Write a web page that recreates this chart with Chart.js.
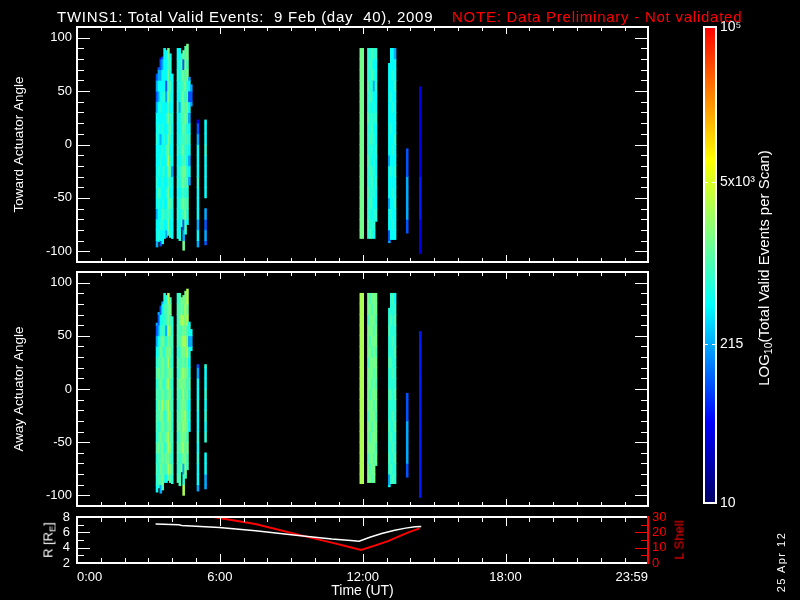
<!DOCTYPE html>
<html>
<head>
<meta charset="utf-8">
<title>TWINS1 Total Valid Events</title>
<script src="https://cdn.jsdelivr.net/npm/chart.js@4.4.1/dist/chart.umd.min.js"></script>
<style>
html, body { margin:0; padding:0; background:#000; }
#wrap { position:relative; width:800px; height:600px; overflow:hidden; background:#000; font-family:'Liberation Sans', Arial, sans-serif; }
#wrap canvas { position:absolute; left:0; top:0; }
.txt { position:absolute; white-space:nowrap; color:#fff; line-height:1; }
.rot { transform: translate(-50%,-50%) rotate(-90deg); }
sub { font-size:70%; vertical-align:-0.3em; line-height:0; }
</style>
</head>
<body>
<div id="wrap">
  <canvas id="cToward" width="800" height="600"></canvas>
  <canvas id="cAway" width="800" height="600"></canvas>
  <canvas id="cOrbit" width="800" height="600"></canvas>
  <canvas id="cBar" width="800" height="600"></canvas>
  <div class="txt" style="left:57px;top:9px;font-size:15px;letter-spacing:0.75px;">TWINS1: Total Valid Events:&nbsp; 9 Feb (day&nbsp; 40), 2009</div>
  <div class="txt" style="left:452px;top:9px;font-size:15px;letter-spacing:0.75px;color:#ff0000;">NOTE: Data Preliminary - Not validated</div>
  <div class="txt rot" style="left:48px;top:540px;font-size:13px;">R [R<sub>E</sub>]</div>
  <div class="txt rot" style="left:679px;top:540px;font-size:13px;color:#ff0000;">L Shell</div>
  <div class="txt rot" style="left:763px;top:268px;font-size:15px;">LOG<sub>10</sub>(Total Valid Events per Scan)</div>
  <div class="txt rot" style="left:781px;top:562px;font-size:11px;letter-spacing:1.5px;">25 Apr 12</div>
</div>
<script>
// ---------------- DATA ----------------
// scan start-centre times (hours UT)
const scanTimes = [3.36,3.44,3.52,3.60,3.68,3.76,3.84,3.92,4.00,
                   4.24,4.32,4.40,4.48,4.56,4.64,4.72,4.80,
                   5.08,5.40,
                   11.92,12.00,
                   12.24,12.32,12.40,12.48,12.56,
                   13.12,13.20,13.28,13.36,
                   13.87,14.42];
// actuator-angle bin edges (deg)
const angleBinEdges = [-110,-90,-80,-70,-60,-50,-40,-30,-20,-10,0,10,20,30,40,50,60,70,80,100];

// Toward actuator angle: angular extent of each scan and counts per bin
const towardLo = [-96,-91,-95,-93,-88,-87,-85,-87,-88, -88,-90,-77,-99,-84,-75,-38,36, -96,-94, -88,-88, -88,-88,-88,-88,-72, -92,-89,-89,-89, -83,-102];
const towardHi = [66,72,81,82,90,88,90,85,66, 90,90,85,88,92,94,63,56, 23,23, 90,90, 90,90,90,90,90, 76,90,90,90, -4,54];
const towardCounts = [
  [215,480,480,215,480,480,700,480,480,480,700,480,480,215,100,215,100,null,null],
  [480,700,480,480,700,1000,480,700,480,480,480,700,480,480,215,480,215,100,null],
  [100,480,700,480,480,700,480,480,700,480,215,480,480,700,480,480,215,100,40],
  [480,480,700,1000,700,480,700,700,480,700,480,700,480,480,700,480,480,215,100],
  [null,480,480,700,480,480,480,700,480,480,700,480,480,480,700,480,480,480,480],
  [null,215,480,700,480,700,480,480,700,1000,480,480,700,480,215,100,480,480,480],
  [null,1000,1600,1000,1600,1600,1000,1600,3000,1600,1600,1000,1600,1000,1600,1000,1600,1000,1600],
  [null,700,480,700,1000,480,700,1000,700,480,700,1000,700,480,700,1000,480,700,480],
  [null,480,480,480,700,480,480,215,480,480,480,480,700,480,480,480,480,null,null],
  [null,480,480,700,480,480,700,480,480,700,480,480,480,700,480,480,700,480,480],
  [null,700,480,480,700,480,480,700,480,480,700,480,480,215,480,700,480,700,480],
  [null,null,1000,700,1000,700,1000,1000,700,1000,700,700,1000,700,1000,700,1000,1000,700],
  [1600,215,100,1000,1600,1000,1600,1600,1000,1600,1000,1600,1000,1600,1600,1000,1600,100,1600],
  [null,700,1000,1600,1000,700,1000,1600,1000,700,1000,1000,1600,1000,700,1600,1000,1600,1000],
  [null,null,480,700,1000,700,1000,700,480,700,1000,700,1000,1600,1000,700,1600,1000,1600],
  [null,null,null,null,null,null,215,480,215,480,700,480,215,480,100,480,215,null,null],
  [null,null,null,null,null,null,null,null,null,null,null,null,null,215,100,215,null,null,null],
  [215,480,215,480,480,480,700,480,480,480,215,100,40,null,null,null,null,null,null],
  [100,215,100,215,null,480,480,480,480,700,480,480,480,null,null,null,null,null,null],
  [null,1600,1600,1600,1600,1600,1600,1600,1600,1600,1600,1600,1600,1600,1600,1600,1600,1600,1600],
  [null,1600,1600,1600,1600,1600,1600,1600,1600,1600,1600,1600,1600,1600,1600,1600,1600,1600,1600],
  [null,700,1000,700,700,1000,700,700,1000,700,700,700,1000,700,700,1000,700,700,700],
  [null,1000,700,700,1000,700,700,1000,700,700,1000,700,700,700,1000,700,700,1000,700],
  [null,700,700,480,700,700,1000,700,480,700,700,1000,700,480,700,700,1000,700,1000],
  [null,480,700,700,480,700,480,700,700,480,700,480,700,700,480,215,700,480,700],
  [null,null,480,700,480,480,700,480,480,700,480,480,700,480,480,700,480,480,700],
  [215,100,480,480,215,480,480,480,215,480,480,480,480,480,480,480,480,480,null],
  [null,480,480,700,480,480,480,700,480,480,480,700,480,480,700,480,480,480,480],
  [null,480,700,480,480,700,480,480,480,700,480,480,480,700,480,480,700,480,480],
  [null,480,480,480,700,480,480,700,480,480,700,480,480,480,480,700,480,480,215],
  [null,100,100,215,215,215,215,100,100,100,null,null,null,null,null,null,null,null,null],
  [40,40,40,60,60,60,60,40,40,40,40,40,40,40,40,40,null,null,null]
];

// Away actuator angle
const awayLo = [-97,-93,-98,-95,-88,-88,-86,-88,-89, -88,-91,-78,-100,-84,-76,-40,36, -96,-94, -89,-89, -88,-88,-88,-88,-72, -92,-89,-89,-89, -83,-102];
const awayHi = [62,72,78,82,90,88,90,86,68, 90,90,86,88,92,94,63,56, 23,23, 90,90, 90,90,90,90,90, 76,90,90,90, -4,54];
const awayCounts = [
  [480,700,1000,700,1000,700,1000,1000,700,1000,700,1000,700,480,215,100,215,null,null],
  [700,1000,700,1000,1600,1000,700,1000,1600,1000,1000,1600,1000,700,480,215,100,215,null],
  [215,1000,1600,1000,1000,1600,1000,1600,1000,1000,1600,1000,1000,1600,1000,700,480,100,null],
  [1000,1600,1000,1600,1600,1000,1600,1600,3000,1600,1000,1600,1600,1000,1600,1000,700,480,215],
  [null,700,1000,1000,700,1000,1000,700,1000,1000,700,1000,1000,700,1000,700,700,1000,700],
  [null,480,1000,1600,1000,1600,1000,1000,1600,1000,1600,1000,1000,1600,700,215,1000,1000,700],
  [null,1600,3000,1600,3000,3000,1600,3000,3000,1600,3000,1600,3000,1600,1600,3000,1600,1600,3000],
  [null,1000,1600,1000,1600,1000,1600,1600,1000,1600,1000,1600,1000,1600,1000,1600,1000,1600,1000],
  [null,700,1000,700,700,1000,700,700,1000,700,700,1000,700,700,1000,700,700,null,null],
  [null,1000,700,1000,1000,700,1000,1000,700,1000,1000,700,1000,700,1000,1000,700,1000,700],
  [700,1000,1000,700,1000,1000,1600,1000,1000,1000,1600,1000,1000,700,1000,1000,1600,1000,1000],
  [null,null,1600,1000,1600,1600,1000,1600,1600,1000,1600,1600,1000,1600,1600,1000,3000,1600,1600],
  [3000,700,215,1600,3000,1600,3000,1600,1600,3000,1600,3000,1600,1600,3000,1600,3000,1000,1600],
  [null,1000,1600,1600,1000,1600,1600,3000,1600,1000,1600,1600,1000,1600,3000,1600,1600,3000,1600],
  [null,null,1000,1000,1600,1000,1600,1000,1000,1600,1000,1600,1600,3000,1600,1000,3000,1600,3000],
  [null,null,null,null,null,null,480,700,480,700,1000,700,480,700,215,700,480,null,null],
  [null,null,null,null,null,null,null,null,null,null,null,null,null,480,215,480,null,null,null],
  [215,480,480,700,480,700,480,480,700,480,480,215,100,null,null,null,null,null,null],
  [215,215,480,480,null,700,480,700,480,700,480,480,700,null,null,null,null,null,null],
  [null,3000,3000,3000,3000,3000,3000,3000,3000,3000,3000,3000,3000,3000,3000,3000,3000,3000,3000],
  [null,3000,3000,3000,3000,3000,3000,3000,3000,3000,3000,3000,3000,3000,3000,3000,3000,3000,3000],
  [null,1600,1600,1000,1600,1600,1600,1000,1600,1600,1600,1600,1000,1600,1600,1600,1000,1600,1600],
  [null,1600,1000,1600,1600,1000,1600,1600,1600,1000,1600,1600,1600,1600,1000,1600,1600,1600,1000],
  [null,1000,1600,1600,1600,1600,1000,1600,1600,1600,1000,1600,1600,1000,1600,1600,1600,1000,1600],
  [null,1600,1600,1000,1600,1600,1600,1600,1000,1600,1600,1000,1600,1600,1600,1000,1600,1600,1600],
  [null,null,1000,1600,1000,1600,1600,1000,1600,1600,1000,1600,1600,1000,1600,1600,1000,1600,1600],
  [480,215,700,1000,700,700,1000,700,700,1000,700,700,1000,700,700,1000,700,700,null],
  [null,700,1000,700,700,1000,700,700,700,1000,700,700,1000,700,700,700,1000,700,700],
  [null,1000,700,700,1000,700,700,1000,700,700,700,1000,700,700,1000,700,700,700,1000],
  [null,700,700,1000,700,700,1000,700,700,1000,700,700,700,1000,700,700,1000,700,480],
  [null,100,100,215,215,215,215,100,100,100,null,null,null,null,null,null,null,null,null],
  [60,60,60,60,60,60,60,60,60,60,60,60,60,60,60,60,null,null,null]
];

// Orbit: radial distance and L shell
const orbitTimesR = [3.30, 4.27, 4.40, 5.98, 7.50, 9.20, 10.70, 11.50, 11.85, 12.30, 12.80, 13.30, 13.80, 14.20, 14.46];
const orbitR      = [7.10, 6.98, 6.90, 6.62, 6.20, 5.62, 5.12, 4.95, 4.85, 5.35, 5.85, 6.25, 6.55, 6.72, 6.76];
const orbitTimesL = [5.73, 7.49, 9.63, 10.70, 11.40, 11.93, 12.50, 13.06, 13.50, 13.92, 14.39];
const orbitL      = [30.0, 25.4, 17.2, 13.3, 10.6, 8.5, 11.3, 14.3, 17.2, 20.0, 22.6];

// axes / ticks
const dayEnd = 23.9833;
const timeTickHours  = [0, 6, 12, 18, 23.9833];
const timeTickLabels = ['0:00', '6:00', '12:00', '18:00', '23:59'];
const hourMinorTicks = [1,2,3,4,5,7,8,9,10,11,13,14,15,16,17,19,20,21,22,23];
const hourMajorTicks = [6, 12, 18];
const angleMin = -110, angleMax = 110;
const angleTickValues = [-100, -50, 0, 50, 100];
const angleMinorTicks = [-90,-80,-70,-60,-40,-30,-20,-10,10,20,30,40,60,70,80,90];
const rTickValues = [2, 4, 6, 8];
const rMajorInner = [4, 6];
const rMinorTicks = [3, 5, 7];
const lTickValues = [0, 10, 20, 30];
const lMajorInner = [10, 20];
const lMinorTicks = [5, 15, 25];
const cbarMin = 10, cbarMax = 100000;
const cbarTickValues = [10, 215, 5000, 100000];
const cbarTickLabels = ['10', '215', '5x10\u00B3', '10\u2075'];
const cbarInnerTicks = [215, 5000];

// colour table (fraction of log range -> rgb)
const cmapStops = [[0,[0,0,100]],[0.17,[0,0,255]],[0.415,[0,255,255]],[0.565,[128,255,128]],[0.72,[255,255,0]],[0.86,[255,128,0]],[1,[255,0,0]]];

// ---------------- HELPERS ----------------
Chart.defaults.font.family = "'Liberation Sans', Arial, sans-serif";
Chart.defaults.font.size = 13;
Chart.defaults.color = '#ffffff';

function cmapColor(f) {
  f = Math.min(1, Math.max(0, f));
  for (let i = 1; i < cmapStops.length; i++) {
    const f0 = cmapStops[i - 1][0], c0 = cmapStops[i - 1][1];
    const f1 = cmapStops[i][0], c1 = cmapStops[i][1];
    if (f <= f1) {
      const t = (f - f0) / (f1 - f0);
      return 'rgb(' + c0.map((c, k) => Math.round(c + (c1[k] - c) * t)).join(',') + ')';
    }
  }
  return 'rgb(255,0,0)';
}
function countColor(v) {
  return cmapColor((Math.log10(v) - Math.log10(cbarMin)) / (Math.log10(cbarMax) - Math.log10(cbarMin)));
}
function buildCells(lo, hi, counts) {
  const cells = [];
  scanTimes.forEach((t, i) => {
    counts[i].forEach((v, b) => {
      if (v === null) return;
      const a = Math.max(angleBinEdges[b], lo[i]);
      const z = Math.min(angleBinEdges[b + 1], hi[i]);
      if (z > a) cells.push({ x: t, y: [a, z], v: v });
    });
  });
  return cells;
}
function edgeTicks(sets) {
  return {
    id: 'edgeTicks',
    afterDatasetsDraw(chart) {
      const ctx = chart.ctx, a = chart.chartArea;
      sets.forEach(s => {
        const sc = chart.scales[s.scale];
        ctx.save();
        ctx.strokeStyle = s.color || '#ffffff';
        ctx.lineWidth = 1;
        ctx.beginPath();
        s.values.forEach(v => {
          const p = Math.round(sc.getPixelForValue(v)) + 0.5;
          if (s.side === 'left') { ctx.moveTo(a.left, p); ctx.lineTo(a.left + s.len, p); }
          else if (s.side === 'right') { ctx.moveTo(a.right, p); ctx.lineTo(a.right - s.len, p); }
          else if (s.side === 'top') { ctx.moveTo(p, a.top); ctx.lineTo(p, a.top + s.len); }
          else { ctx.moveTo(p, a.bottom); ctx.lineTo(p, a.bottom - s.len); }
        });
        ctx.stroke();
        ctx.restore();
      });
    }
  };
}
const noGrid = () => ({ display: false, drawTicks: false });
const frame = (color) => ({ display: true, color: color || '#ffffff', width: 2, z: 1 });
function hiddenTimeAxis(pos) {
  return { type: 'linear', position: pos, min: 0, max: dayEnd, offset: false,
           ticks: { display: false }, grid: noGrid(), border: frame(),
           afterFit: s => { s.height = 0; } };
}
const baseOpts = { responsive: false, animation: false, devicePixelRatio: 1, events: [] };

// ---------------- SPECTROGRAM PANELS ----------------
function spectrogramPanel(canvasId, top, bottom, lo, hi, counts, title) {
  const sets = [
    { scale: 'y', side: 'left',  values: angleTickValues, len: 13 },
    { scale: 'y', side: 'left',  values: angleMinorTicks, len: 7 },
    { scale: 'y', side: 'right', values: angleTickValues, len: 13 },
    { scale: 'y', side: 'right', values: angleMinorTicks, len: 7 },
    { scale: 'x', side: 'top',    values: hourMinorTicks, len: 4 },
    { scale: 'x', side: 'top',    values: hourMajorTicks, len: 7 },
    { scale: 'x', side: 'bottom', values: hourMinorTicks, len: 4 },
    { scale: 'x', side: 'bottom', values: hourMajorTicks, len: 7 }
  ];
  return new Chart(document.getElementById(canvasId), {
    type: 'bar',
    data: { datasets: [{
      label: title,
      data: buildCells(lo, hi, counts),
      backgroundColor: c => (c.raw ? countColor(c.raw.v) : '#000'),
      borderWidth: 0, categoryPercentage: 1, barPercentage: 1
    }] },
    options: Object.assign({}, baseOpts, {
      layout: { padding: { left: 4, top: top, right: 800 - 648, bottom: 600 - bottom } },
      plugins: { legend: { display: false }, tooltip: { enabled: false } },
      scales: {
        x: hiddenTimeAxis('bottom'),
        xt: hiddenTimeAxis('top'),
        y: { type: 'linear', position: 'left', min: angleMin, max: angleMax,
             afterBuildTicks: s => { s.ticks = angleTickValues.map(v => ({ value: v })); },
             ticks: { color: '#ffffff', padding: 5, autoSkip: false, font: { size: 13 } },
             grid: noGrid(), border: frame(),
             title: { display: true, text: title, color: '#ffffff', font: { size: 13.5 }, padding: { top: 7, bottom: 0 } },
             afterFit: s => { s.width = 73; } },
        yr: { type: 'linear', position: 'right', min: angleMin, max: angleMax,
              ticks: { display: false }, grid: noGrid(), border: frame(),
              afterFit: s => { s.width = 0; } }
      }
    }),
    plugins: [edgeTicks(sets)]
  });
}
spectrogramPanel('cToward', 27, 262, towardLo, towardHi, towardCounts, 'Toward Actuator Angle');
spectrogramPanel('cAway', 272, 506, awayLo, awayHi, awayCounts, 'Away Actuator Angle');

// ---------------- ORBIT PANEL ----------------
new Chart(document.getElementById('cOrbit'), {
  type: 'line',
  data: { datasets: [
    { label: 'R', data: orbitTimesR.map((t, i) => ({ x: t, y: orbitR[i] })), borderColor: '#ffffff', borderWidth: 1.5, pointRadius: 0, tension: 0, yAxisID: 'y', xAxisID: 'x' },
    { label: 'L Shell', data: orbitTimesL.map((t, i) => ({ x: t, y: orbitL[i] })), borderColor: '#ff0000', borderWidth: 2, pointRadius: 0, tension: 0, yAxisID: 'y2', xAxisID: 'x' }
  ] },
  options: Object.assign({}, baseOpts, {
    layout: { padding: { left: 4, top: 517, right: 800 - 648 - 30, bottom: 0 } },
    plugins: { legend: { display: false }, tooltip: { enabled: false } },
    scales: {
      x: { type: 'linear', position: 'bottom', min: 0, max: dayEnd, offset: false,
           afterBuildTicks: s => { s.ticks = timeTickHours.map(v => ({ value: v })); },
           ticks: { color: '#ffffff', font: { size: 13 }, padding: 7, align: 'inner', maxRotation: 0, minRotation: 0, autoSkip: false,
                    callback: (v, i) => timeTickLabels[i] },
           grid: noGrid(), border: frame(),
           title: { display: true, text: 'Time (UT)', color: '#ffffff', font: { size: 14 }, padding: { top: 0, bottom: 0 } },
           afterFit: s => { s.height = 37; } },
      xt: hiddenTimeAxis('top'),
      y: { type: 'linear', position: 'left', min: 2, max: 8,
           afterBuildTicks: s => { s.ticks = rTickValues.map(v => ({ value: v })); },
           ticks: { color: '#ffffff', padding: 7, autoSkip: false, font: { size: 13 } },
           grid: noGrid(), border: frame(),
           afterFit: s => { s.width = 73; } },
      y2: { type: 'linear', position: 'right', min: 0, max: 30,
            afterBuildTicks: s => { s.ticks = lTickValues.map(v => ({ value: v })); },
            ticks: { color: '#ff0000', padding: 4, autoSkip: false, font: { size: 13 } },
            grid: noGrid(), border: frame('#ff0000'),
            afterFit: s => { s.width = 30; } }
    }
  }),
  plugins: [edgeTicks([
    { scale: 'y',  side: 'left',  values: rMajorInner, len: 13 },
    { scale: 'y',  side: 'left',  values: rMinorTicks, len: 7 },
    { scale: 'y2', side: 'right', values: lMajorInner, len: 13, color: '#ff0000' },
    { scale: 'y2', side: 'right', values: lMinorTicks, len: 7, color: '#ff0000' },
    { scale: 'x', side: 'top',    values: hourMinorTicks, len: 5 },
    { scale: 'x', side: 'top',    values: hourMajorTicks, len: 9 },
    { scale: 'x', side: 'bottom', values: hourMinorTicks, len: 5 },
    { scale: 'x', side: 'bottom', values: hourMajorTicks, len: 9 }
  ])]
});

// ---------------- COLOUR BAR ----------------
new Chart(document.getElementById('cBar'), {
  type: 'bar',
  data: { labels: [''], datasets: [{
    label: 'colour bar',
    data: [[cbarMin, cbarMax]],
    backgroundColor: c => {
      const ch = c.chart, a = ch.chartArea;
      if (!a) return '#000';
      const g = ch.ctx.createLinearGradient(0, a.bottom, 0, a.top);
      cmapStops.forEach(s => g.addColorStop(s[0], 'rgb(' + s[1].join(',') + ')'));
      return g;
    },
    borderWidth: 0, categoryPercentage: 1, barPercentage: 1
  }] },
  options: Object.assign({}, baseOpts, {
    layout: { padding: { left: 704, top: 27, right: 800 - 716 - 50, bottom: 600 - 503 } },
    plugins: { legend: { display: false }, tooltip: { enabled: false } },
    scales: {
      x: { type: 'category', position: 'bottom', ticks: { display: false }, grid: noGrid(), border: frame(), afterFit: s => { s.height = 0; } },
      xt: { type: 'category', position: 'top', ticks: { display: false }, grid: noGrid(), border: frame(), afterFit: s => { s.height = 0; } },
      y: { type: 'logarithmic', position: 'right', min: cbarMin, max: cbarMax,
           afterBuildTicks: s => { s.ticks = cbarTickValues.map(v => ({ value: v })); },
           ticks: { color: '#ffffff', padding: 4, autoSkip: false, font: { size: 14 }, callback: (v, i) => cbarTickLabels[i] },
           grid: noGrid(), border: frame(), afterFit: s => { s.width = 50; } },
      yl: { type: 'logarithmic', position: 'left', min: cbarMin, max: cbarMax,
            ticks: { display: false }, grid: noGrid(), border: frame(), afterFit: s => { s.width = 0; } }
    }
  }),
  plugins: [edgeTicks([
    { scale: 'y', side: 'left',  values: cbarInnerTicks, len: 4 },
    { scale: 'y', side: 'right', values: cbarInnerTicks, len: 4 }
  ])]
});
</script>
</body>
</html>
